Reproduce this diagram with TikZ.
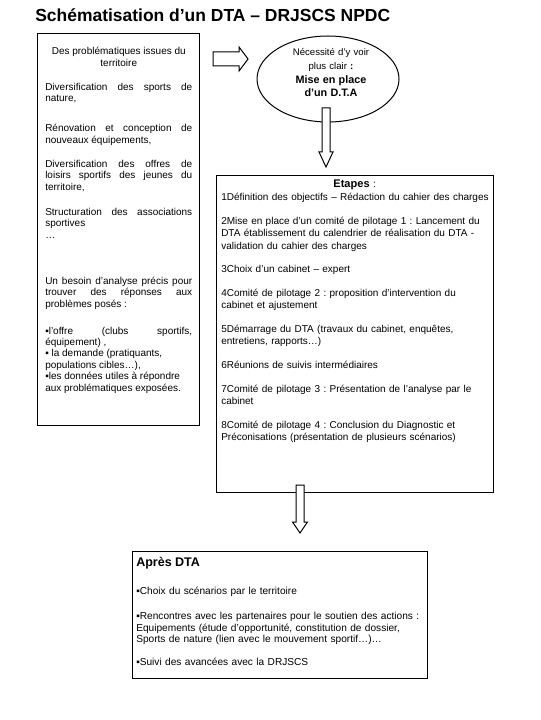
\documentclass[tikz,border=0pt]{standalone}
\usepackage{fontspec}
\setmainfont{Liberation Sans}
\usepackage{tikz}
\usetikzlibrary{calc,shapes.geometric}
\frenchspacing

\tikzset{
  cadre/.style={draw, line width=0.75pt, inner sep=0pt, anchor=north west},
  texte/.style={inner sep=0pt, anchor=base west, font=\fontsize{7.5}{8.6}\selectfont},
  fleche/.style n args={3}{draw, fill=white, line width=0.75pt, to path={
    ($(\tikztostart)!#1!90:(\tikztotarget)$)
    -- ($(\tikztotarget)!#3!(\tikztostart)!#1!-90:(\tikztostart)$)
    -- ($(\tikztotarget)!#3!(\tikztostart)!#2!-90:(\tikztostart)$)
    -- (\tikztotarget)
    -- ($(\tikztotarget)!#3!(\tikztostart)!#2!90:(\tikztostart)$)
    -- ($(\tikztotarget)!#3!(\tikztostart)!#1!90:(\tikztostart)$)
    -- ($(\tikztostart)!#1!-90:(\tikztotarget)$) -- cycle}}
}

\begin{document}
\begin{tikzpicture}[x=0.75pt,y=0.75pt,yscale=-1,xscale=1]
\useasboundingbox (0,0) rectangle (540,720);

% Text Node
\node [texte, font=\fontsize{13.1}{15}\selectfont\bfseries] (titre) at (35,22) {Schématisation d’un DTA – DRJSCS NPDC};

%Shape: Rectangle
\node [cadre, minimum width=121.5pt, minimum height=294pt] (problemes) at (37,33) {};
% Text Node
\node [texte, text width=110.25pt, align=justify] (problemestxt) at (45,55) {{\centering Des problématiques issues du\\ territoire\par}
\vspace{9.4pt}
Diversification des sports de\linebreak nature,\par
\vspace{13.9pt}
Rénovation et conception de\linebreak nouveaux équipements,\par
\vspace{9.4pt}
Diversification des offres de\linebreak loisirs sportifs des jeunes du\linebreak territoire,\par
\vspace{10.1pt}
Structuration des associations\linebreak sportives\\ …\par
\vspace{25.9pt}
Un besoin d'analyse précis pour\linebreak trouver des réponses aux\linebreak problèmes posés :\par
\vspace{11.6pt}
▪l'offre (clubs sportifs,\linebreak équipement) ,\\ ▪ la demande (pratiquants,\\ populations cibles…),\\ ▪les données utiles à répondre\\ aux problématiques exposées.};

%Shape: Ellipse
\node [draw, ellipse, line width=0.75pt, inner sep=0pt, minimum width=106.5pt, minimum height=64.5pt] (besoin) at (328,79) {};
% Text Node
\node [texte, anchor=base, text width=100pt, align=center, font=\fontsize{7.2}{10.2}\selectfont] (besoinlbl) at (331,56) {Nécessité d'y voir\\ plus clair \textbf{:}\\ {\fontsize{8.1}{10.2}\selectfont\bfseries Mise en place\\ d'un D.T.A}};

%Shape: Rectangle
\node [cadre, minimum width=207.75pt, minimum height=237.75pt] (etapes) at (216,175) {};
% Text Node
\node [texte, text width=230pt, align=left, font=\fontsize{7.5}{9.2}\selectfont] (etapestxt) at (221,188) {\makebox[200pt][c]{{\fontsize{8.3}{9.2}\selectfont\bfseries Etapes} :}\\[0.5pt]
1Définition des objectifs – Rédaction du cahier des charges\\[8.6pt]
2Mise en place d'un comité de pilotage 1 : Lancement du\\ DTA établissement du calendrier de réalisation du DTA -\\ validation du cahier des charges\\[8.6pt]
3Choix d'un cabinet – expert\\[8.6pt]
4Comité de pilotage 2 : proposition d'intervention du\\ cabinet et ajustement\\[8.6pt]
5Démarrage du DTA (travaux du cabinet, enquêtes,\\ entretiens, rapports…)\\[8.6pt]
6Réunions de suivis intermédiaires\\[8.6pt]
7Comité de pilotage 3 : Présentation de l'analyse par le\\ cabinet\\[8.6pt]
8Comité de pilotage 4 : Conclusion du Diagnostic et\\ Préconisations (présentation de plusieurs scénarios)};

%Shape: Rectangle
\node [cadre, minimum width=221.25pt, minimum height=95.25pt] (apres) at (132,551) {};
% Text Node
\node [texte, text width=230pt, align=left, font=\fontsize{7.6}{8.6}\selectfont] (aprestxt) at (136,566) {{\fontsize{9.4}{8.6}\selectfont\bfseries Après DTA}\\[13.1pt]
▪Choix du scénarios par le territoire\\[10.1pt]
▪Rencontres avec les partenaires pour le soutien des actions :\\ Equipements (étude d'opportunité, constitution de dossier,\\ Sports de nature (lien avec le mouvement sportif…)…\\[8.6pt]
▪Suivi des avancées avec la DRJSCS};

%Block Arrows
\coordinate (f1a) at (213,59);
\coordinate (f1b) at (248,59);
\coordinate (f2a) at (326,108);
\coordinate (f2b) at (326,167);
\coordinate (f3a) at (300,485);
\coordinate (f3b) at (300,533);
\draw [fleche={5.25pt}{9pt}{6.75pt}] (f1a) to (f1b);
\draw [fleche={3pt}{5.25pt}{11.25pt}] (f2a) to (f2b);
\draw [fleche={3pt}{5.6pt}{8.25pt}] (f3a) to (f3b);

\end{tikzpicture}
\end{document}
